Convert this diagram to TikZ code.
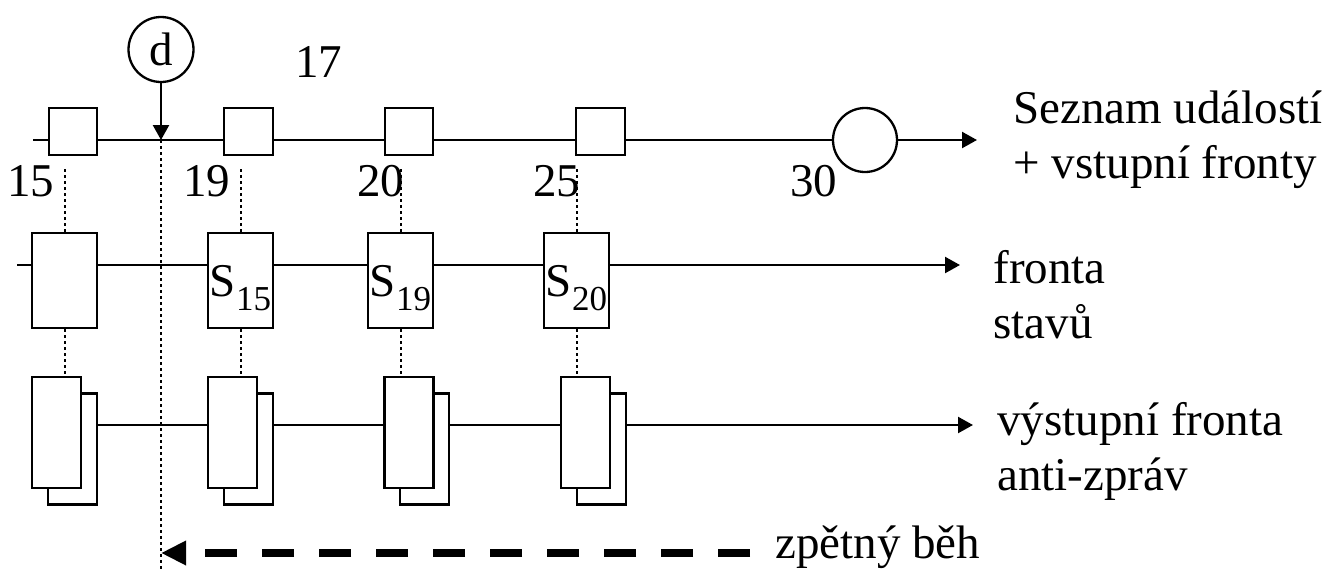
\documentclass[tikz,border=0pt]{standalone}
\usepackage{fontspec}
\setmainfont{Liberation Serif}
\usetikzlibrary{arrows.meta,positioning,calc}
\newcommand{\stv}[1]{S\raisebox{-7pt}{\fontsize{17.5}{18}\selectfont #1}}
\tikzset{
  ln/.style={line width=1.15pt},
  ar/.style={ln,-{Triangle[length=7.5pt,width=8pt]}},
  dar/.style={line width=4pt,dash pattern=on 16pt off 12.5pt,-{Triangle[length=12.5pt,width=11.5pt]}},
  dot/.style={line width=1pt,dash pattern=on 1.5pt off 1.5pt},
  sq/.style={ln,draw,fill=white,inner sep=0pt,minimum width=24pt,minimum height=23.5pt},
  stbox/.style={ln,draw,fill=white,inner sep=0pt,minimum width=32.5pt,minimum height=47.5pt,text depth=0pt},
  msg/.style={ln,draw,fill=white,inner sep=0pt,minimum width=24.5pt,minimum height=55.5pt},
  circ/.style={ln,draw,fill=white,circle,inner sep=0pt},
  lbl/.style={inner sep=0pt,align=left},
}
\begin{document}
\begin{tikzpicture}[x=0.5pt,y=-0.5pt,font=\fontsize{23.5}{27.5}\selectfont]
\useasboundingbox (0,0) rectangle (1341,569);
\coordinate (s1) at (33,140); \coordinate (e1) at (977,140);
\coordinate (s2) at (17,265); \coordinate (e2) at (960,265);
\coordinate (s3) at (97,425); \coordinate (e3) at (973,425);
\draw[ar] (s1)--(e1); \draw[ar] (s2)--(e2); \draw[ar] (s3)--(e3);
% events and states
\foreach \i/\x/\w in {1/73/24,2/248.5/24.5,3/409/24,4/600.5/24.5}
  \node[sq,minimum width=\w pt] (q\i) at (\x,131.5) {};
\node[circ,minimum size=32pt] (c30) at (865,140) {};
\node[stbox] (b1) at (64.5,280.5) {};
\node[stbox] (b2) at (240.5,280.5) {\stv{15}};
\node[stbox] (b3) at (400.5,280.5) {\stv{19}};
\node[stbox] (b4) at (576.5,280.5) {\stv{20}};
% anti-messages
\foreach \i/\x in {1/72.5,2/248.5,3/424.5,4/601.5}
  \node[msg] (k\i) at (\x,449) {};
\foreach \i/\x in {1/56.5,2/232.5,3/409,4/585.5}
  \node[msg] (m\i) at (\x,432.5) {};
\foreach \i in {1,...,4}{
  \draw[dot] (b\i.north) -- ++(0,-63);
  \draw[dot] (b\i.south) -- (b\i.south |- m\i.north);
}
\foreach \x/\t in {7/15,183/19,357/20,533/25,790/30}
  \node[lbl,anchor=base west] (n\t) at (\x,196) {\t};
\node[lbl,anchor=base west] (n17) at (295,77) {17};
% straggler
\node[circ,minimum size=32.5pt] (d) at (161,49.5) {d};
\coordinate (x1) at (161,140); \coordinate (x2) at (161,569);
\draw[ar] (d) -- (x1);
\draw[dot] (x1) -- (x2);
\node[lbl,anchor=base west] (zb) at (775,558) {zpětný běh};
\draw[dar] (zb.west |- 0,553) ++(-25,0) coordinate (z1) -- (z1 -| x1);
\node[lbl,anchor=base west] (t1) at (1013,178) {Seznam událostí\\+ vstupní fronty};
\node[lbl,anchor=base west] (t2) at (993,338) {fronta\\stavů};
\node[lbl,anchor=base west] (t3) at (997,490) {výstupní fronta\\anti-zpráv};
\end{tikzpicture}
\end{document}
